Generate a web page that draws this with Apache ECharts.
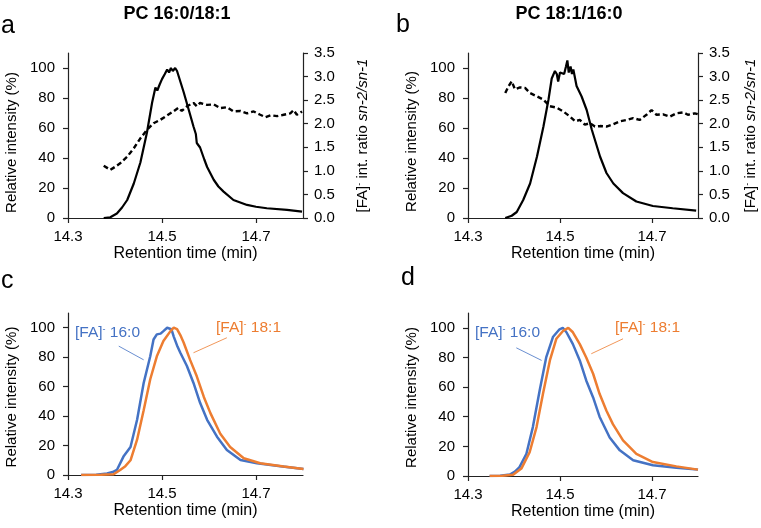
<!DOCTYPE html>
<html>
<head>
<meta charset="utf-8">
<script src="https://cdn.jsdelivr.net/npm/echarts@6/dist/echarts.min.js"></script>
<style>
html,body{margin:0;padding:0;background:#fff;}
#chart{width:761px;height:528px;}
</style>
</head>
<body>
<div id="chart"></div>
<script>
// ---------- data ----------
const xTickValues = [14.3, 14.5, 14.7];
const leftTickValues = [0, 20, 40, 60, 80, 100];
const panelTitles = ['PC 16:0/18:1', 'PC 18:1/16:0'];
const panelLetters = ['a', 'b', 'c', 'd'];
const xAxisName = 'Retention time (min)';
const leftAxisName = 'Relative intensity (%)';
const seriesNames = ['[FA]- 16:0', '[FA]- 18:1'];

// Panel a: PC 16:0/18:1 relative intensity and sn-2/sn-1 ratio
const aIntTime = [14.376,14.39,14.404,14.415,14.426,14.44,14.454,14.468,14.479,14.486,14.49,14.495,14.5,14.506,14.511,14.515,14.519,14.523,14.528,14.532,14.535,14.54,14.546,14.557,14.567,14.572,14.574,14.581,14.59,14.596,14.61,14.62,14.631,14.652,14.681,14.7,14.723,14.766,14.798];
const aIntVal  = [0,0.5,3,7,12,23,37,57,77,87,85,89,92.6,96,99,97,100,98,100,98,95,90,84,72,61,56,50,47,39,34,25.5,21,17.6,12,8.7,7.5,6.5,5.4,4.2];
const aRatioTime = [14.376,14.38,14.39,14.401,14.411,14.426,14.44,14.454,14.468,14.482,14.496,14.51,14.524,14.535,14.542,14.553,14.567,14.574,14.581,14.596,14.61,14.624,14.638,14.652,14.667,14.681,14.695,14.709,14.72,14.731,14.745,14.759,14.773,14.78,14.787,14.798];
const aRatioVal  = [1.11,1.11,1.02,1.09,1.16,1.30,1.48,1.69,1.87,2.01,2.08,2.17,2.26,2.34,2.27,2.37,2.44,2.37,2.44,2.40,2.41,2.33,2.35,2.26,2.27,2.22,2.26,2.19,2.14,2.18,2.16,2.19,2.22,2.29,2.19,2.26];
// Panel b: PC 18:1/16:0
const bIntTime = [14.381,14.395,14.406,14.42,14.435,14.45,14.464,14.475,14.482,14.489,14.493,14.496,14.5,14.504,14.509,14.513,14.516,14.519,14.523,14.526,14.529,14.536,14.547,14.558,14.569,14.576,14.587,14.601,14.616,14.637,14.666,14.702,14.745,14.796];
const bIntVal  = [0,1.5,4,12,23,41,61,79,93,98,96,91,97,98,96,101,105,97,101,96,99,88,81,72,59,52,41,30,23,16.6,11,8,6.5,4.9];
const bRatioTime = [14.381,14.388,14.395,14.402,14.413,14.424,14.435,14.45,14.464,14.478,14.493,14.507,14.522,14.533,14.543,14.554,14.565,14.576,14.587,14.601,14.616,14.63,14.645,14.659,14.673,14.688,14.699,14.71,14.724,14.739,14.753,14.768,14.778,14.793,14.8];
const bRatioVal  = [2.65,2.79,2.90,2.73,2.77,2.76,2.65,2.58,2.51,2.37,2.34,2.26,2.15,2.05,2.08,1.98,2.01,1.94,1.95,1.94,1.99,2.05,2.08,2.12,2.08,2.19,2.29,2.19,2.20,2.15,2.22,2.24,2.19,2.22,2.20];
// Panel c: PC 16:0/18:1 [FA]- chromatograms
const c160Time = [14.328,14.36,14.383,14.395,14.404,14.418,14.433,14.447,14.461,14.475,14.482,14.489,14.497,14.503,14.507,14.511,14.515,14.52,14.525,14.532,14.539,14.553,14.567,14.581,14.596,14.617,14.638,14.667,14.702,14.752,14.801];
const c160Val  = [0,0.2,1,2,3.4,12.5,19,37.5,62.5,80.6,92,95.5,96,97.7,98,100,100,99,94,88,83,74,62.5,49,37.5,26,17,10.2,8,6,4];
const c181Time = [14.328,14.37,14.397,14.411,14.422,14.433,14.447,14.461,14.475,14.489,14.503,14.518,14.525,14.532,14.539,14.546,14.56,14.574,14.589,14.603,14.624,14.645,14.674,14.709,14.759,14.801];
const c181Val  = [0,0.1,0.5,3.4,6,10,24,44,65,80.6,91,97.7,100,99,95,90,78,67,53,42,28,19,11.4,8,5.7,4];
// Panel d: PC 18:1/16:0 [FA]- chromatograms
const d160Time = [14.347,14.37,14.391,14.402,14.412,14.427,14.441,14.456,14.47,14.485,14.499,14.506,14.514,14.528,14.543,14.557,14.572,14.586,14.608,14.63,14.659,14.702,14.753,14.8];
const d160Val  = [0,0.2,1,3,6,15,33,58,80,94,99,100,97,89,78,64.5,53,40,26,17.3,10.6,7.2,5.6,4.3];
const d181Time = [14.347,14.375,14.398,14.416,14.434,14.449,14.463,14.478,14.492,14.507,14.518,14.528,14.543,14.557,14.572,14.586,14.601,14.615,14.637,14.666,14.702,14.753,14.8];
const d181Val  = [0,0.2,0.8,5,16,33,55.5,78,92.6,98,100,97,89,80,69,55.5,44,35,24,15,9.4,6.5,4.3];

// Leader lines for annotations (data coordinates)
const cLeader160 = [[14.408, 87.5], [14.461, 78.2]];
const cLeader181 = [[14.638, 93.2], [14.567, 83]];
const dLeader160 = [[14.405, 86.5], [14.46, 78]];
const dLeader181 = [[14.637, 92.6], [14.568, 82.5]];

// ---------- styling ----------
const FONT = '"Liberation Sans", Arial, Helvetica, sans-serif';
const BLUE = '#4472C4';
const ORANGE = '#ED7D31';
const AXC = '#222';

function zip(xs, ys) { return xs.map((x, i) => [x, ys[i]]); }

const richBase = {
  n: { fontSize: 15, fontFamily: FONT, color: '#000' },
  s: { fontSize: 9, fontFamily: FONT, color: '#000', verticalAlign: 'top' },
  i: { fontSize: 15, fontFamily: FONT, color: '#000', fontStyle: 'italic' }
};

const grids = [
  { left: 68, right: 458, top: 53, bottom: 310 },
  { left: 468, right: 63, top: 53, bottom: 310 },
  { left: 68, right: 458, top: 313, bottom: 53 },
  { left: 468, right: 63, top: 313, bottom: 52 }
];

function makeX(gi) {
  return {
    type: 'value', gridIndex: gi, min: 14.3, max: 14.8,
    name: xAxisName, nameLocation: 'middle', nameGap: 28,
    nameTextStyle: { fontSize: 16, color: '#000', fontFamily: FONT },
    axisLine: { lineStyle: { color: AXC, width: 1.2 } },
    axisTick: { show: true, length: 5, customValues: xTickValues, lineStyle: { color: AXC, width: 1.2 } },
    axisLabel: { customValues: xTickValues, margin: 11, fontSize: 15, color: '#000', fontFamily: FONT,
      formatter: v => Number(v).toFixed(1) },
    splitLine: { show: false }
  };
}
function leftY(gi, pad) {
  return {
    type: 'value', gridIndex: gi, min: 0, max: 110, position: 'left',
    name: leftAxisName, nameLocation: 'middle', nameGap: 49,
    nameTextStyle: { fontSize: 15, color: '#000', fontFamily: FONT, padding: [0, pad, 0, 0] },
    axisLine: { show: true, lineStyle: { color: AXC, width: 1.2 } },
    axisTick: { show: true, length: 5, customValues: leftTickValues, lineStyle: { color: AXC, width: 1.2 } },
    axisLabel: { customValues: leftTickValues, margin: 13, fontSize: 15, color: '#000', fontFamily: FONT },
    splitLine: { show: false }
  };
}
function rightY(gi, gap) {
  return {
    type: 'value', gridIndex: gi, min: 0, max: 3.5, interval: 0.5, position: 'right',
    name: '{n|[FA]}{s|-}{n| int. ratio }{i|sn-2/sn-1}', nameLocation: 'middle', nameGap: gap,
    nameTextStyle: { fontSize: 15, color: '#000', fontFamily: FONT, rich: richBase },
    axisLine: { show: true, lineStyle: { color: AXC, width: 1.2 } },
    axisTick: { show: true, length: 5, lineStyle: { color: AXC, width: 1.2 } },
    axisLabel: { margin: 11, fontSize: 15, color: '#000', fontFamily: FONT, formatter: v => Number(v).toFixed(1) },
    splitLine: { show: false }
  };
}
function lineSeries(name, data, xi, yi, color, dashed, width) {
  return {
    name, type: 'line', xAxisIndex: xi, yAxisIndex: yi, data,
    symbol: 'none', showSymbol: false, animation: false,
    lineStyle: { color, width: width || 2, type: dashed ? [5, 3] : 'solid' },
    z: 3
  };
}
function leader(pair, color) {
  return {
    silent: true, symbol: ['none', 'none'], animation: false,
    label: { show: false },
    lineStyle: { color, width: 1, type: 'solid', opacity: 0.8 },
    data: [[{ coord: pair[0] }, { coord: pair[1] }]]
  };
}
function annText(x, y, label, color) {
  const parts = label.split('- ');
  return {
    type: 'text', x, y, silent: true,
    style: {
      text: '{n|' + parts[0] + '}{s|-}{n| ' + parts[1] + '}',
      verticalAlign: 'top', align: 'left',
      rich: {
        n: { fontSize: 15.5, fontFamily: FONT, fill: color },
        s: { fontSize: 9, fontFamily: FONT, fill: color, verticalAlign: 'top' }
      }
    }
  };
}
function plainText(x, y, text, size, weight, align) {
  return {
    type: 'text', x, y, silent: true,
    style: { text, fontSize: size, fontWeight: weight || 'normal', fontFamily: FONT, fill: '#000',
      align: align || 'left', verticalAlign: 'top' }
  };
}

const s160c = lineSeries(seriesNames[0], zip(c160Time, c160Val), 2, 4, BLUE, false, 2.5);
s160c.markLine = leader(cLeader160, BLUE);
const s181c = lineSeries(seriesNames[1], zip(c181Time, c181Val), 2, 4, ORANGE, false, 2.5);
s181c.markLine = leader(cLeader181, ORANGE);
const s160d = lineSeries(seriesNames[0], zip(d160Time, d160Val), 3, 5, BLUE, false, 2.5);
s160d.markLine = leader(dLeader160, BLUE);
const s181d = lineSeries(seriesNames[1], zip(d181Time, d181Val), 3, 5, ORANGE, false, 2.5);
s181d.markLine = leader(dLeader181, ORANGE);

const option = {
  backgroundColor: '#fff',
  animation: false,
  grid: grids,
  xAxis: [makeX(0), makeX(1), makeX(2), makeX(3)],
  yAxis: [leftY(0, 14), rightY(0, 52), leftY(1, 12), rightY(1, 45), leftY(2, 6), leftY(3, 6)],
  series: [
    lineSeries('PC 16:0/18:1 intensity', zip(aIntTime, aIntVal), 0, 0, '#000', false, 2.2),
    lineSeries('PC 16:0/18:1 ratio', zip(aRatioTime, aRatioVal), 0, 1, '#000', true, 2.4),
    lineSeries('PC 18:1/16:0 intensity', zip(bIntTime, bIntVal), 1, 2, '#000', false, 2.2),
    lineSeries('PC 18:1/16:0 ratio', zip(bRatioTime, bRatioVal), 1, 3, '#000', true, 2.4),
    s160c, s181c, s160d, s181d
  ],
  graphic: [
    plainText(177, 5, panelTitles[0], 18, 'bold', 'center'),
    plainText(569, 5, panelTitles[1], 18, 'bold', 'center'),
    plainText(1, 14, panelLetters[0], 25),
    plainText(396, 13, panelLetters[1], 25),
    plainText(1, 269, panelLetters[2], 25),
    plainText(401, 266, panelLetters[3], 25),
    annText(75, 325, seriesNames[0], BLUE),
    annText(216, 320, seriesNames[1], ORANGE),
    annText(475, 325, seriesNames[0], BLUE),
    annText(615, 320, seriesNames[1], ORANGE)
  ]
};
const chart = echarts.init(document.getElementById('chart'), null, { renderer: 'canvas' });
chart.setOption(option);
</script>
</body>
</html>
